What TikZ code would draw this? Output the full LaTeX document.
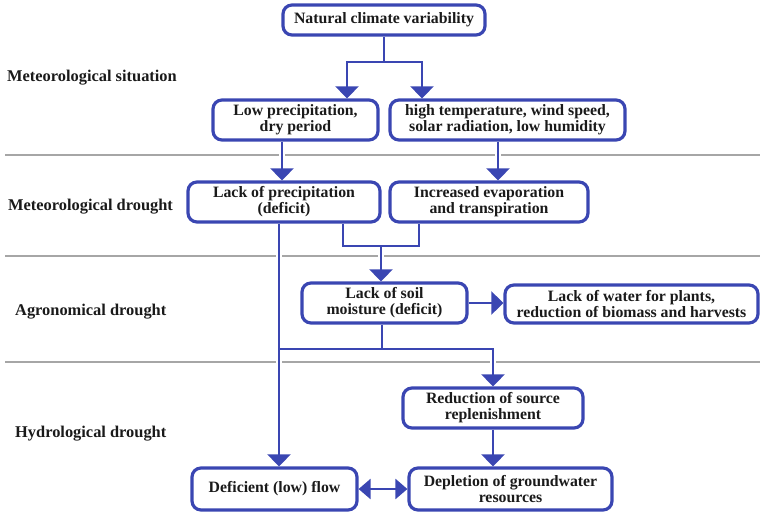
\documentclass[tikz,border=0pt]{standalone}
\usepackage{fontspec}
\setmainfont{Liberation Serif}
\usetikzlibrary{arrows.meta}
\pgfdeclarelayer{sep}
\pgfdeclarelayer{halo}
\pgfsetlayers{sep,halo,main}
\definecolor{bblue}{HTML}{3A46B2}
\definecolor{txt}{HTML}{1A1A1A}
\definecolor{sepgray}{HTML}{A6A6A6}
\begin{document}
\begin{tikzpicture}[x=1pt,y=-1pt,
  txtfont/.style={font=\bfseries\fontsize{15.8}{15.8}\selectfont},
  box/.style={draw=bblue, line width=3.2pt, rounded corners=9pt, fill=white, align=center, inner sep=0pt, text=txt, txtfont},
  conn/.style={draw=bblue, line width=2.3pt},
  arr/.style={conn, -{Triangle[width=23pt,length=12pt]}},
  darr/.style={conn, {Triangle[width=20pt,length=12pt]}-{Triangle[width=20pt,length=12pt]}},
  halo/.style={draw=white, line width=6.5pt},
  sepline/.style={draw=sepgray, line width=2pt},
  lab/.style={anchor=west, inner sep=0pt, text=txt, font=\bfseries\fontsize{16.4}{16.4}\selectfont}]
\useasboundingbox (0,0) rectangle (760,512);

% level labels
\node[lab] (l1) at (7,78) {Meteorological situation};
\node[lab] (l2) at (8,207) {Meteorological drought};
\node[lab] (l3) at (15,312) {Agronomical drought};
\node[lab] (l4) at (15,434) {Hydrological drought};

% boxes
\node[box, minimum width=202pt, minimum height=30pt] (nat) at (384,20) {Natural climate variability};
\node[box, minimum width=165pt, minimum height=40pt] (lowp) at (295.5,120) {Low precipitation,\\dry period};
\node[box, minimum width=235pt, minimum height=40pt] (hight) at (507.5,120) {high temperature, wind speed,\\solar radiation, low humidity};
\node[box, minimum width=192pt, minimum height=40pt] (lackp) at (284,202) {Lack of precipitation\\(deficit)};
\node[box, minimum width=198pt, minimum height=40pt] (incev) at (489,202) {Increased evaporation\\and transpiration};
\node[box, minimum width=165pt, minimum height=40pt] (soil) at (384.5,303) {Lack of soil\\moisture (deficit)};
\node[box, minimum width=253pt, minimum height=38pt] (water) at (631.5,304) {Lack of water for plants,\\reduction of biomass and harvests};
\node[box, minimum width=180pt, minimum height=40pt] (reduc) at (493,408) {Reduction of source\\replenishment};
\node[box, minimum width=165pt, minimum height=42pt] (defic) at (274.5,489) {Deficient (low) flow};
\node[box, minimum width=203pt, minimum height=42pt] (deplet) at (510.5,489) {Depletion of groundwater\\resources};

% helper coordinates
\coordinate (t) at (384,62);
\coordinate (cL) at (347,0);
\coordinate (cR) at (422,0);
\coordinate (cA) at (282,0);
\coordinate (cB) at (498,0);
\coordinate (cD) at (279,0);
\coordinate (cE) at (343,0);
\coordinate (cF) at (419,0);
\coordinate (cS) at (382,0);
\coordinate (j) at (381,246);
\coordinate (b1) at (279,349);
\coordinate (b2) at (493,349);

% separators
\begin{pgfonlayer}{sep}
\draw[sepline] (5,155) -- (760,155);
\draw[sepline] (5,256) -- (760,256);
\draw[sepline] (5,362) -- (760,362);
\end{pgfonlayer}

% white gaps where connectors cross separators
\begin{pgfonlayer}{halo}
\draw[halo] (lowp.south -| cA) -- (lackp.north -| cA);
\draw[halo] (hight.south -| cB) -- (incev.north -| cB);
\draw[halo] (j) -- (soil.north -| j);
\draw[halo] (lackp.south -| cD) -- (defic.north -| cD);
\draw[halo] (b2) -- (reduc.north -| b2);
\end{pgfonlayer}

% connectors
\draw[conn] (nat.south) -- (t);
\draw[arr] (t) -| (lowp.north -| cL);
\draw[arr] (t) -| (hight.north -| cR);
\draw[arr] (lowp.south -| cA) -- (lackp.north -| cA);
\draw[arr] (hight.south -| cB) -- (incev.north -| cB);
\draw[conn] (lackp.south -| cE) |- (j) -| (incev.south -| cF);
\draw[arr] (j) -- (soil.north -| j);
\draw[arr] (lackp.south -| cD) -- (defic.north -| cD);
\draw[conn] (soil.south -| cS) -- (cS |- b1);
\draw[arr] (b1) -| (reduc.north -| b2);
\draw[arr] (reduc.south -| b2) -- (deplet.north -| b2);
\draw[arr] (soil.east) -- (soil.east -| water.west);
\draw[darr] (defic.east) -- (defic.east -| deplet.west);
\end{tikzpicture}
\end{document}
